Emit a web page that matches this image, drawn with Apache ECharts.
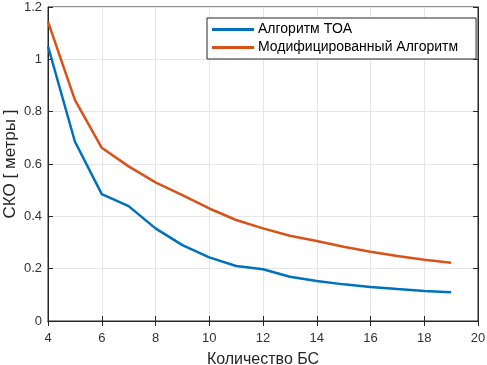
<!DOCTYPE html>
<html>
<head>
<meta charset="utf-8">
<script src="https://cdn.jsdelivr.net/npm/echarts@6/dist/echarts.min.js"></script>
<style>
html, body { margin: 0; padding: 0; background: #fff; }
#chart { width: 487px; height: 365px; }
</style>
</head>
<body>
<div id="chart"></div>
<script>
const stations = [4, 5, 6, 7, 8, 9, 10, 11, 12, 13, 14, 15, 16, 17, 18, 19];
const toaValues = [1.05, 0.686, 0.485, 0.439, 0.354, 0.29, 0.243, 0.21, 0.198, 0.169, 0.153, 0.14, 0.13, 0.122, 0.115, 0.11];
const modValues = [1.144, 0.845, 0.662, 0.591, 0.53, 0.481, 0.43, 0.386, 0.354, 0.326, 0.306, 0.284, 0.265, 0.248, 0.234, 0.223];
const seriesNames = ['Алгоритм TOA', 'Модифицированный Алгоритм'];

const font = 'Liberation Sans, Arial, sans-serif';
const axisColor = '#262626';

function pairs(xs, ys) {
    return xs.map((x, i) => [x, ys[i]]);
}

const chart = echarts.init(document.getElementById('chart'));
const option = {
    animation: false,
    textStyle: { fontFamily: font },
    grid: {
        left: 48, right: 9, top: 7, bottom: 44,
        outerBoundsMode: 'none',
        show: true, borderColor: axisColor, borderWidth: 1
    },
    legend: {
        data: seriesNames,
        orient: 'vertical',
        left: 207,
        top: 18,
        padding: [3, 18, 3, 5],
        itemGap: 1,
        itemWidth: 42,
        itemHeight: 3,
        icon: 'rect',
        backgroundColor: '#fff',
        borderColor: axisColor,
        borderWidth: 1,
        borderRadius: 0,
        textStyle: { fontSize: 14, lineHeight: 17, color: '#000', fontFamily: font, padding: [0, 0, 0, -1] }
    },
    xAxis: [{
        type: 'value',
        min: 4, max: 20, interval: 2,
        name: 'Количество БС',
        nameLocation: 'middle',
        nameGap: 31,
        nameMoveOverlap: false,
        nameTextStyle: { fontSize: 16, color: axisColor },
        axisLine: { lineStyle: { color: axisColor } },
        axisTick: { inside: true, length: 5, lineStyle: { color: axisColor } },
        axisLabel: { fontSize: 13, color: '#333', margin: 11 },
        splitLine: { lineStyle: { color: '#e6e6e6' } }
    }, {
        type: 'value', position: 'top',
        min: 4, max: 20, interval: 2,
        axisLine: { show: true, lineStyle: { color: axisColor } },
        axisTick: { inside: true, length: 5, lineStyle: { color: axisColor } },
        axisLabel: { show: false },
        splitLine: { show: false }
    }],
    yAxis: [{
        type: 'value',
        min: 0, max: 1.2, interval: 0.2,
        name: 'СКО [ метры ]',
        nameLocation: 'middle',
        nameGap: 29,
        nameMoveOverlap: false,
        nameTextStyle: { fontSize: 17, color: axisColor },
        axisLine: { show: true, lineStyle: { color: axisColor } },
        axisTick: { show: true, inside: true, length: 5, lineStyle: { color: axisColor } },
        axisLabel: { fontSize: 13, color: '#333', margin: 6 },
        splitLine: { lineStyle: { color: '#e6e6e6' } }
    }, {
        type: 'value', position: 'right',
        min: 0, max: 1.2, interval: 0.2,
        axisLine: { show: true, lineStyle: { color: axisColor } },
        axisTick: { show: true, inside: true, length: 5, lineStyle: { color: axisColor } },
        axisLabel: { show: false },
        splitLine: { show: false }
    }],
    series: [{
        name: seriesNames[0],
        type: 'line',
        data: pairs(stations, toaValues),
        showSymbol: false,
        color: '#0072BD',
        lineStyle: { width: 2.5, color: '#0072BD' }
    }, {
        name: seriesNames[1],
        type: 'line',
        data: pairs(stations, modValues),
        showSymbol: false,
        color: '#D95319',
        lineStyle: { width: 2.5, color: '#D95319' }
    }]
};
chart.setOption(option);
</script>
</body>
</html>
